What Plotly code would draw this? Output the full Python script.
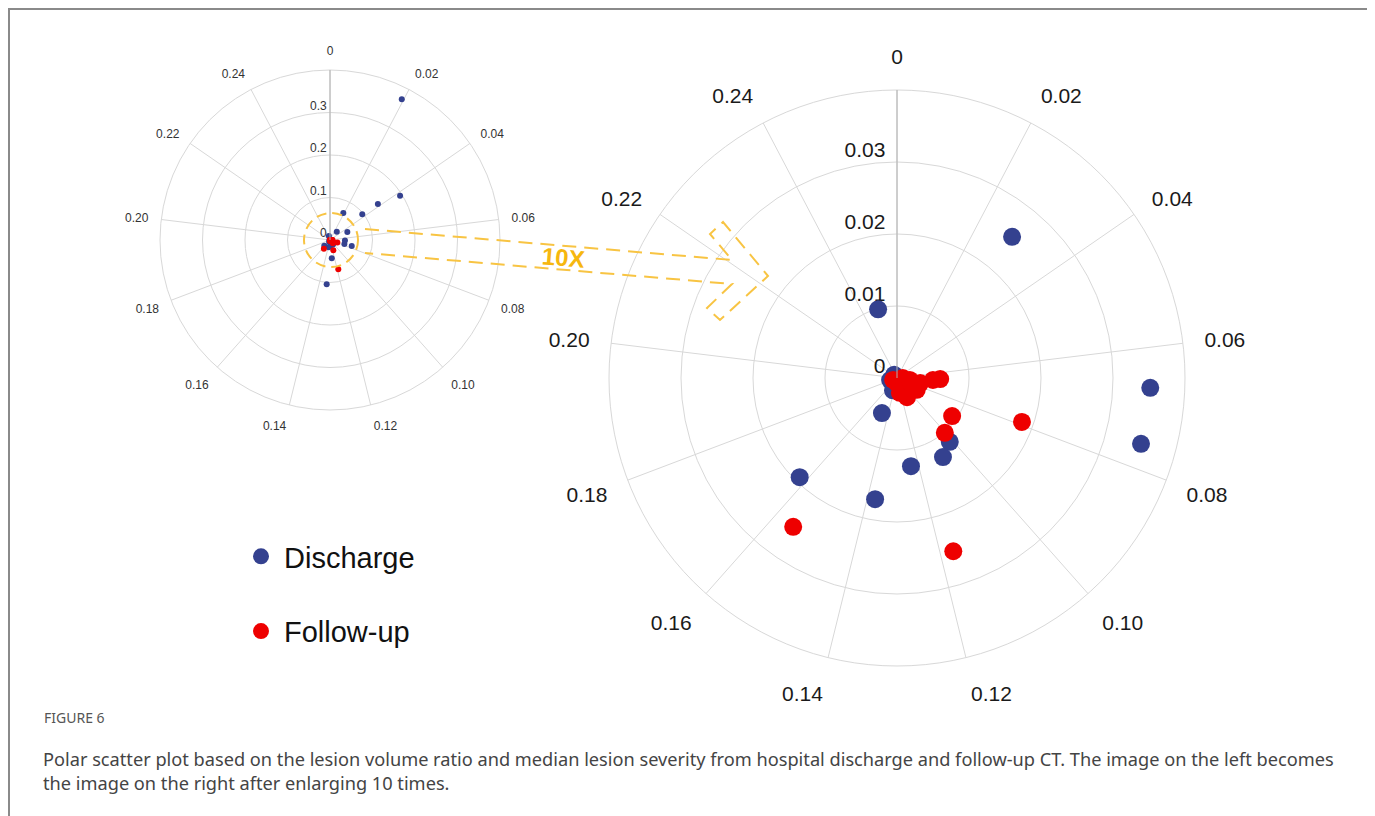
import plotly.graph_objects as go

# ---------------- data ----------------
PERIOD = 0.26  # full turn of the angular axis
angular_ticks = [0.00, 0.02, 0.04, 0.06, 0.08, 0.10, 0.12, 0.14, 0.16, 0.18, 0.20, 0.22, 0.24]
angular_ticktext = ["0", "0.02", "0.04", "0.06", "0.08", "0.10", "0.12", "0.14", "0.16", "0.18", "0.20", "0.22", "0.24"]

left_radial_ticks = [0, 0.1, 0.2, 0.3]
left_radial_text = ["0", "0.1", "0.2", "0.3"]
right_radial_ticks = [0, 0.01, 0.02, 0.03]
right_radial_text = ["0", "0.01", "0.02", "0.03"]

# Discharge: angular value and radial value
discharge_theta = [0.0195, 0.0417, 0.0383, 0.0372, 0.0189, 0.0470, 0.0760, 0.1260, 0.1331,
                   0.0283, 0.2489, 0.0666, 0.0759, 0.1014, 0.1082, 0.1235, 0.1468, 0.1374,
                   0.1621, 0.1830, 0.1430, 0.2300]
discharge_r = [0.372, 0.195, 0.141, 0.097, 0.071, 0.045, 0.053, 0.043, 0.1045,
               0.0253, 0.0099, 0.0352, 0.0351, 0.0115, 0.0127, 0.0124, 0.0053, 0.0171,
               0.0193, 0.0010, 0.0018, 0.0006]

# Follow-up
followup_theta = [0.1186, 0.0790, 0.0900, 0.1003, 0.1170, 0.1552, 0.0660, 0.0673, 0.0739,
                  0.0874, 0.1100, 0.1220, 0.1300, 0.1760, 0.0650, 0.0713, 0.0850]
followup_r = [0.0717, 0.0184, 0.0093, 0.0101, 0.0253, 0.0252, 0.0060, 0.0050, 0.0033,
              0.0032, 0.0030, 0.0021, 0.0007, 0.0006, 0.0008, 0.0018, 0.0024]

LEFT_MAX = 0.4
RIGHT_MAX = 0.04

BLUE = "#34418f"
RED = "#ee0000"
ORANGE = "#f8c443"

W, H = 1375, 816
OFF = 8  # page body margin offset
NB = "\u00a0"


def deg(v):
    return v * 360.0 / PERIOD


def within(rs, ts, rmax):
    pairs = [(r, t) for r, t in zip(rs, ts) if r < rmax]
    return [p[0] for p in pairs], [deg(p[1]) for p in pairs]


def px(x):
    return (x - OFF) / W


def py(y):
    return 1 - (y - OFF) / H


fig = go.Figure()

# ---- left (full scale) ----
fig.add_trace(go.Scatterpolar(
    r=left_radial_ticks, theta=[0] * len(left_radial_ticks), text=[t + NB for t in left_radial_text],
    mode="text", textposition="top left",
    textfont=dict(family="Liberation Sans, Arial", size=12, color="#333333"),
    subplot="polar", showlegend=False, hoverinfo="skip"))
fig.add_trace(go.Scatterpolar(
    r=discharge_r, theta=[deg(t) for t in discharge_theta], mode="markers",
    marker=dict(color=BLUE, size=6), subplot="polar", showlegend=False, name="Discharge"))
fig.add_trace(go.Scatterpolar(
    r=followup_r, theta=[deg(t) for t in followup_theta], mode="markers",
    marker=dict(color=RED, size=6), subplot="polar", showlegend=False, name="Follow-up"))

# ---- right (10x) ----
fig.add_trace(go.Scatterpolar(
    r=right_radial_ticks, theta=[0] * len(right_radial_ticks), text=[t + NB + NB for t in right_radial_text],
    mode="text", textposition="top left",
    textfont=dict(family="Liberation Sans, Arial", size=21, color="#1a1a1a"),
    subplot="polar2", showlegend=False, hoverinfo="skip"))
rb, tb = within(discharge_r, discharge_theta, RIGHT_MAX)
fig.add_trace(go.Scatterpolar(
    r=rb, theta=tb, mode="markers", marker=dict(color=BLUE, size=18),
    subplot="polar2", name="Discharge", legendgroup="d"))
rr, tr = within(followup_r, followup_theta, RIGHT_MAX)
fig.add_trace(go.Scatterpolar(
    r=rr, theta=tr, mode="markers", marker=dict(color=RED, size=18),
    subplot="polar2", name="Follow-up", legendgroup="f"))

grid = "#d8d8d8"


def polar_cfg(domain_x, domain_y, rmax, rticks, fsize, ticklen, fcolor):
    return dict(
        domain=dict(x=domain_x, y=domain_y),
        bgcolor="white",
        angularaxis=dict(
            tickmode="array", tickvals=[deg(v) for v in angular_ticks], ticktext=angular_ticktext,
            rotation=90, direction="clockwise", showgrid=True, gridcolor=grid, gridwidth=1,
            showline=True, linecolor=grid, linewidth=1,
            ticks="outside", ticklen=ticklen, tickcolor="rgba(0,0,0,0)",
            tickfont=dict(family="Liberation Sans, Arial", size=fsize, color=fcolor)),
        radialaxis=dict(
            range=[0, rmax], tickmode="array", tickvals=rticks, showticklabels=False,
            showgrid=True, gridcolor=grid, gridwidth=1, showline=True, linecolor="#b0b0b0",
            linewidth=1, angle=90, ticks=""),
    )


fig.update_layout(
    width=W, height=H, margin=dict(l=0, r=0, t=0, b=0),
    paper_bgcolor="white", plot_bgcolor="white",
    polar=polar_cfg([px(160), px(500)], [py(410), py(70)], LEFT_MAX,
                    left_radial_ticks, 12, 10, "#333333"),
    polar2=polar_cfg([px(609), px(1185)], [py(666), py(90)], RIGHT_MAX,
                     right_radial_ticks, 21, 17, "#1a1a1a"),
    showlegend=True,
    legend=dict(x=px(238), y=py(531), xanchor="left", yanchor="top", itemwidth=36,
                font=dict(family="Liberation Sans, Arial", size=29, color="#111111"),
                traceorder="grouped", tracegroupgap=34, bgcolor="rgba(0,0,0,0)"),
)

shapes = []
# frame
shapes.append(dict(type="rect", xref="paper", yref="paper", x0=px(9), x1=px(1369), y0=py(860), y1=py(9),
                   line=dict(color="#8a8a8a", width=2)))
# dashed circle on left
shapes.append(dict(type="circle", xref="paper", yref="paper", x0=px(304), x1=px(358), y0=py(267), y1=py(213),
                   line=dict(color=ORANGE, width=2, dash="10px,6px")))
# arrow outline
path_pts = [(365, 229), (732, 260), (710, 234), (723, 222), (768, 276), (720, 320), (707, 308), (732, 284), (365, 253)]
path = "M " + " L ".join(f"{px(x):.5f},{py(y):.5f}" for x, y in path_pts)
shapes.append(dict(type="path", xref="paper", yref="paper", path=path,
                   line=dict(color=ORANGE, width=2, dash="14px,8px")))
fig.update_layout(shapes=shapes)

annotations = [
    dict(text="<b>10X</b>", x=px(563), y=py(257), xref="paper", yref="paper", showarrow=False,
         xanchor="center", yanchor="middle", textangle=5,
         font=dict(family="Liberation Sans, Arial", size=24, color="#f6b70f")),
    dict(text="FIGURE 6", x=px(42), y=py(717), xref="paper", yref="paper", showarrow=False,
         xanchor="left", yanchor="middle", font=dict(family="Noto Sans", size=14, color="#555555")),
    dict(text="Polar scatter plot based on the lesion volume ratio and median lesion severity from hospital discharge and follow-up CT. The image on the left becomes",
         x=px(41), y=py(759), xref="paper", yref="paper", showarrow=False,
         xanchor="left", yanchor="middle", font=dict(family="Noto Sans", size=18.2, color="#444444")),
    dict(text="the image on the right after enlarging 10 times.",
         x=px(41), y=py(783), xref="paper", yref="paper", showarrow=False,
         xanchor="left", yanchor="middle", font=dict(family="Noto Sans", size=18.2, color="#444444")),
]
fig.update_layout(annotations=annotations)

fig.write_html("out.html")
